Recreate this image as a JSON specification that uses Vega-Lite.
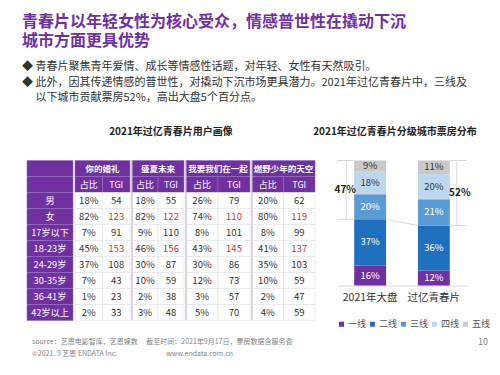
{
  "$schema": "https://vega.github.io/schema/vega-lite/v6.json",
  "padding": {"left": 22, "top": 13.5, "right": 0, "bottom": 0},
  "background": "white",
  "config": {"font": "Noto Sans CJK SC", "view": {"stroke": null}},
  "datasets": {
    "cells": [
      {"row": "男", "a1": "18%", "a2": "54", "b1": "18%", "b2": "55", "c1": "26%", "c2": "79", "d1": "20%", "d2": "62"},
      {"row": "女", "a1": "82%", "a2": "123", "b1": "82%", "b2": "122", "c1": "74%", "c2": "110", "d1": "80%", "d2": "119"},
      {"row": "17岁以下", "a1": "7%", "a2": "91", "b1": "9%", "b2": "110", "c1": "8%", "c2": "101", "d1": "8%", "d2": "99"},
      {"row": "18-23岁", "a1": "45%", "a2": "153", "b1": "46%", "b2": "156", "c1": "43%", "c2": "145", "d1": "41%", "d2": "137"},
      {"row": "24-29岁", "a1": "37%", "a2": "108", "b1": "30%", "b2": "87", "c1": "30%", "c2": "86", "d1": "35%", "d2": "103"},
      {"row": "30-35岁", "a1": "7%", "a2": "43", "b1": "10%", "b2": "59", "c1": "12%", "c2": "73", "d1": "10%", "d2": "59"},
      {"row": "36-41岁", "a1": "1%", "a2": "23", "b1": "2%", "b2": "38", "c1": "3%", "c2": "57", "d1": "2%", "d2": "47"},
      {"row": "42岁以上", "a1": "2%", "a2": "33", "b1": "3%", "b2": "48", "c1": "5%", "c2": "70", "d1": "4%", "d2": "59"}
    ]
  },
  "title": {
    "text": ["青春片以年轻女性为核心受众，情感普世性在撬动下沉", "城市方面更具优势"],
    "subtitle": ["◆ 青春片聚焦青年爱情、成长等情感性话题，对年轻、女性有天然吸引。", "◆ 此外，因其传递情感的普世性，对撬动下沉市场更具潜力。2021年过亿青春片中，三线及", "\u200b\u3000 以下城市贡献票房52%，高出大盘5个百分点。"],
    "anchor": "start", "frame": "group", "dx": -5,
    "fontSize": 16, "fontWeight": "bold", "color": "#7030a0", "lineHeight": 19,
    "subtitleFontSize": 11, "subtitleColor": "#333333", "subtitleLineHeight": 15.5, "subtitlePadding": 12,
    "offset": 24
  },
  "spacing": 8,
  "resolve": {"legend": {"color": "independent"}},
  "vconcat": [
    {
      "spacing": -3,
      "resolve": {"legend": {"color": "independent"}},
      "hconcat": [
        {
          "title": {"text": "2021年过亿青春片用户画像", "fontSize": 10, "fontWeight": "bold", "color": "#222222", "anchor": "middle", "offset": 23},
          "spacing": 0,
          "hconcat": [
            {
              "width": 46, "height": 160,
              "data": {"values": [
                {"row": "h1", "t": ""}, {"row": "h2", "t": ""},
                {"row": "男", "t": "男"}, {"row": "女", "t": "女"},
                {"row": "17岁以下", "t": "17岁以下"}, {"row": "18-23岁", "t": "18-23岁"},
                {"row": "24-29岁", "t": "24-29岁"}, {"row": "30-35岁", "t": "30-35岁"},
                {"row": "36-41岁", "t": "36-41岁"}, {"row": "42岁以上", "t": "42岁以上"}
              ]},
              "encoding": {
                "y": {"field": "row", "type": "nominal", "axis": null,
                  "scale": {"type": "band", "paddingInner": 0, "paddingOuter": 0,
                    "domain": ["h1", "h2", "男", "女", "17岁以下", "18-23岁", "24-29岁", "30-35岁", "36-41岁", "42岁以上"]}}
              },
              "layer": [
                {"mark": {"type": "rect", "fill": "#7030a0", "stroke": "#9470c0", "strokeWidth": 0.6}},
                {"mark": {"type": "text", "color": "white", "fontSize": 9.2}, "encoding": {"text": {"field": "t"}}}
              ]
            },
            {
              "width": 55, "height": 160,
              "layer": [
                {"data": {"values": [{"film": "你的婚礼", "row": "h1"}]},
                  "encoding": {"y": {"field": "row", "type": "nominal", "axis": null, "scale": {"type": "band", "paddingInner": 0, "paddingOuter": 0, "domain": ["h1", "h2", "男", "女", "17岁以下", "18-23岁", "24-29岁", "30-35岁", "36-41岁", "42岁以上"]}}},
                  "layer": [
                    {"mark": {"type": "rect", "fill": "#7030a0", "stroke": "#9470c0", "strokeWidth": 0.6}},
                    {"mark": {"type": "text", "color": "white", "fontSize": 8.5, "fontWeight": "bold"}, "encoding": {"text": {"field": "film"}}}
                  ]},
                {"data": {"values": [{"key": "a1", "t": "占比", "row": "h2"}, {"key": "a2", "t": "TGI", "row": "h2"}]},
                  "encoding": {"x": {"field": "key", "type": "nominal", "axis": null, "scale": {"type": "band", "paddingInner": 0, "paddingOuter": 0, "domain": ["a1", "a2"]}}, "y": {"field": "row", "type": "nominal"}},
                  "layer": [
                    {"mark": {"type": "rect", "fill": "#7030a0", "stroke": "#9470c0", "strokeWidth": 0.6}},
                    {"mark": {"type": "text", "color": "white", "fontSize": 9}, "encoding": {"text": {"field": "t"}}}
                  ]},
                {"data": {"name": "cells"},
                  "transform": [{"fold": ["a1", "a2"], "as": ["key", "val"]}],
                  "encoding": {"x": {"field": "key", "type": "nominal"}, "y": {"field": "row", "type": "nominal"}},
                  "layer": [
                    {"mark": {"type": "rect", "fill": "white", "stroke": "#e2e2e2", "strokeWidth": 0.6}},
                    {"mark": {"type": "text", "fontSize": 9.5},
                      "encoding": {"text": {"field": "val"},
                        "color": {"condition": {"test": "(datum.row === '女' || datum.row === '18-23岁') && datum.key === 'a2'", "value": "#c8363a"}, "value": "#333333"}}}
                  ]}
              ]
            },
            {
              "width": 52, "height": 160,
              "layer": [
                {"data": {"values": [{"film": "盛夏未来", "row": "h1"}]},
                  "encoding": {"y": {"field": "row", "type": "nominal", "axis": null, "scale": {"type": "band", "paddingInner": 0, "paddingOuter": 0, "domain": ["h1", "h2", "男", "女", "17岁以下", "18-23岁", "24-29岁", "30-35岁", "36-41岁", "42岁以上"]}}},
                  "layer": [
                    {"mark": {"type": "rect", "fill": "#7030a0", "stroke": "#9470c0", "strokeWidth": 0.6}},
                    {"mark": {"type": "text", "color": "white", "fontSize": 8.5, "fontWeight": "bold"}, "encoding": {"text": {"field": "film"}}}
                  ]},
                {"data": {"values": [{"key": "b1", "t": "占比", "row": "h2"}, {"key": "b2", "t": "TGI", "row": "h2"}]},
                  "encoding": {"x": {"field": "key", "type": "nominal", "axis": null, "scale": {"type": "band", "paddingInner": 0, "paddingOuter": 0, "domain": ["b1", "b2"]}}, "y": {"field": "row", "type": "nominal"}},
                  "layer": [
                    {"mark": {"type": "rect", "fill": "#7030a0", "stroke": "#9470c0", "strokeWidth": 0.6}},
                    {"mark": {"type": "text", "color": "white", "fontSize": 9}, "encoding": {"text": {"field": "t"}}}
                  ]},
                {"data": {"name": "cells"},
                  "transform": [{"fold": ["b1", "b2"], "as": ["key", "val"]}],
                  "encoding": {"x": {"field": "key", "type": "nominal"}, "y": {"field": "row", "type": "nominal"}},
                  "layer": [
                    {"mark": {"type": "rect", "fill": "white", "stroke": "#e2e2e2", "strokeWidth": 0.6}},
                    {"mark": {"type": "text", "fontSize": 9.5},
                      "encoding": {"text": {"field": "val"},
                        "color": {"condition": {"test": "(datum.row === '女' || datum.row === '18-23岁') && datum.key === 'b2'", "value": "#c8363a"}, "value": "#333333"}}}
                  ]},
                {"data": {"values": [{"edge": "b1"}]},
                  "mark": {"type": "rule", "color": "#c2aede", "strokeWidth": 1},
                  "encoding": {"x": {"field": "edge", "type": "nominal", "bandPosition": 0}}}
              ]
            },
            {
              "width": 64, "height": 160,
              "layer": [
                {"data": {"values": [{"film": "我要我们在一起", "row": "h1"}]},
                  "encoding": {"y": {"field": "row", "type": "nominal", "axis": null, "scale": {"type": "band", "paddingInner": 0, "paddingOuter": 0, "domain": ["h1", "h2", "男", "女", "17岁以下", "18-23岁", "24-29岁", "30-35岁", "36-41岁", "42岁以上"]}}},
                  "layer": [
                    {"mark": {"type": "rect", "fill": "#7030a0", "stroke": "#9470c0", "strokeWidth": 0.6}},
                    {"mark": {"type": "text", "color": "white", "fontSize": 8.5, "fontWeight": "bold"}, "encoding": {"text": {"field": "film"}}}
                  ]},
                {"data": {"values": [{"key": "c1", "t": "占比", "row": "h2"}, {"key": "c2", "t": "TGI", "row": "h2"}]},
                  "encoding": {"x": {"field": "key", "type": "nominal", "axis": null, "scale": {"type": "band", "paddingInner": 0, "paddingOuter": 0, "domain": ["c1", "c2"]}}, "y": {"field": "row", "type": "nominal"}},
                  "layer": [
                    {"mark": {"type": "rect", "fill": "#7030a0", "stroke": "#9470c0", "strokeWidth": 0.6}},
                    {"mark": {"type": "text", "color": "white", "fontSize": 9}, "encoding": {"text": {"field": "t"}}}
                  ]},
                {"data": {"name": "cells"},
                  "transform": [{"fold": ["c1", "c2"], "as": ["key", "val"]}],
                  "encoding": {"x": {"field": "key", "type": "nominal"}, "y": {"field": "row", "type": "nominal"}},
                  "layer": [
                    {"mark": {"type": "rect", "fill": "white", "stroke": "#e2e2e2", "strokeWidth": 0.6}},
                    {"mark": {"type": "text", "fontSize": 9.5},
                      "encoding": {"text": {"field": "val"},
                        "color": {"condition": {"test": "(datum.row === '女' || datum.row === '18-23岁') && datum.key === 'c2'", "value": "#c8363a"}, "value": "#333333"}}}
                  ]},
                {"data": {"values": [{"edge": "c1"}]},
                  "mark": {"type": "rule", "color": "#c2aede", "strokeWidth": 1},
                  "encoding": {"x": {"field": "edge", "type": "nominal", "bandPosition": 0}}}
              ]
            },
            {
              "width": 63, "height": 160,
              "layer": [
                {"data": {"values": [{"film": "燃野少年的天空", "row": "h1"}]},
                  "encoding": {"y": {"field": "row", "type": "nominal", "axis": null, "scale": {"type": "band", "paddingInner": 0, "paddingOuter": 0, "domain": ["h1", "h2", "男", "女", "17岁以下", "18-23岁", "24-29岁", "30-35岁", "36-41岁", "42岁以上"]}}},
                  "layer": [
                    {"mark": {"type": "rect", "fill": "#7030a0", "stroke": "#9470c0", "strokeWidth": 0.6}},
                    {"mark": {"type": "text", "color": "white", "fontSize": 8.5, "fontWeight": "bold"}, "encoding": {"text": {"field": "film"}}}
                  ]},
                {"data": {"values": [{"key": "d1", "t": "占比", "row": "h2"}, {"key": "d2", "t": "TGI", "row": "h2"}]},
                  "encoding": {"x": {"field": "key", "type": "nominal", "axis": null, "scale": {"type": "band", "paddingInner": 0, "paddingOuter": 0, "domain": ["d1", "d2"]}}, "y": {"field": "row", "type": "nominal"}},
                  "layer": [
                    {"mark": {"type": "rect", "fill": "#7030a0", "stroke": "#9470c0", "strokeWidth": 0.6}},
                    {"mark": {"type": "text", "color": "white", "fontSize": 9}, "encoding": {"text": {"field": "t"}}}
                  ]},
                {"data": {"name": "cells"},
                  "transform": [{"fold": ["d1", "d2"], "as": ["key", "val"]}],
                  "encoding": {"x": {"field": "key", "type": "nominal"}, "y": {"field": "row", "type": "nominal"}},
                  "layer": [
                    {"mark": {"type": "rect", "fill": "white", "stroke": "#e2e2e2", "strokeWidth": 0.6}},
                    {"mark": {"type": "text", "fontSize": 9.5},
                      "encoding": {"text": {"field": "val"},
                        "color": {"condition": {"test": "(datum.row === '女' || datum.row === '18-23岁') && datum.key === 'd2'", "value": "#c8363a"}, "value": "#333333"}}}
                  ]},
                {"data": {"values": [{"edge": "d1"}]},
                  "mark": {"type": "rule", "color": "#c2aede", "strokeWidth": 1},
                  "encoding": {"x": {"field": "edge", "type": "nominal", "bandPosition": 0}}}
              ]
            }
          ]
        },
        {
          "width": 130, "height": 125,
          "title": {"text": "2021年过亿青春片分级城市票房分布", "fontSize": 10, "fontWeight": "bold", "color": "#222222", "anchor": "middle", "frame": "group", "offset": 23, "dx": -7},
          "layer": [
            {
              "data": {"values": [
                {"cat": "2021年大盘", "tier": "一线", "rank": 1, "v": 0.16},
                {"cat": "2021年大盘", "tier": "二线", "rank": 2, "v": 0.37},
                {"cat": "2021年大盘", "tier": "三线", "rank": 3, "v": 0.20},
                {"cat": "2021年大盘", "tier": "四线", "rank": 4, "v": 0.18},
                {"cat": "2021年大盘", "tier": "五线", "rank": 5, "v": 0.09},
                {"cat": "过亿青春片", "tier": "一线", "rank": 1, "v": 0.12},
                {"cat": "过亿青春片", "tier": "二线", "rank": 2, "v": 0.36},
                {"cat": "过亿青春片", "tier": "三线", "rank": 3, "v": 0.21},
                {"cat": "过亿青春片", "tier": "四线", "rank": 4, "v": 0.20},
                {"cat": "过亿青春片", "tier": "五线", "rank": 5, "v": 0.11}
              ]},
              "layer": [
                {
                  "mark": {"type": "bar"},
                  "encoding": {
                    "x": {"field": "cat", "type": "nominal",
                      "scale": {"domain": ["2021年大盘", "过亿青春片"], "paddingInner": 0.5, "paddingOuter": 0.27},
                      "axis": {"title": null, "labelAngle": 0, "labelFontSize": 10.5, "labelColor": "#333333", "ticks": false, "domainColor": "#d9d9d9", "labelPadding": 7}},
                    "y": {"field": "v", "type": "quantitative", "stack": "zero", "scale": {"domain": [0, 1]}, "axis": null},
                    "color": {"field": "tier", "type": "nominal",
                      "scale": {"domain": ["一线", "二线", "三线", "四线", "五线"], "range": ["#7030a0", "#1f6fbf", "#5b9bd5", "#bdd7ee", "#c9c9c9"]},
                      "legend": {"orient": "bottom", "direction": "horizontal", "title": null, "symbolType": "square", "symbolSize": 25, "symbolStrokeWidth": 0, "labelFontSize": 9, "labelColor": "#555555", "columnPadding": 1, "labelOffset": 2, "offset": 16, "padding": 0, "symbolOffset": 0}},
                    "order": {"field": "rank", "type": "quantitative"}
                  }
                },
                {
                  "mark": {"type": "text", "fontSize": 9.5},
                  "encoding": {
                    "x": {"field": "cat", "type": "nominal"},
                    "y": {"field": "v", "type": "quantitative", "stack": "zero", "bandPosition": 0.5},
                    "detail": {"field": "tier"},
                    "order": {"field": "rank", "type": "quantitative"},
                    "text": {"field": "v", "type": "quantitative", "format": ".0%"},
                    "color": {"condition": {"test": "datum.rank <= 3", "value": "white"}, "value": "#333333"}
                  }
                }
              ]
            },
            {
              "data": {"values": [{"c1": "2021年大盘", "c2": "过亿青春片", "lo1": 0.53, "lo2": 0.48}]},
              "mark": {"type": "rule", "color": "#d9d9d9", "strokeWidth": 1},
              "encoding": {
                "x": {"field": "c1", "type": "nominal", "bandPosition": 1},
                "x2": {"field": "c2", "bandPosition": 0},
                "y": {"field": "lo1", "type": "quantitative"},
                "y2": {"field": "lo2"}
              }
            },
            {
              "data": {"values": [{"cat": "2021年大盘", "lo": 0.53, "hi": 1, "label": "47%"}]},
              "layer": [
                {"mark": {"type": "rule", "color": "#d9d9d9", "xOffset": -8},
                  "encoding": {"x": {"field": "cat", "type": "nominal", "bandPosition": 0}, "y": {"field": "lo", "type": "quantitative"}, "y2": {"field": "hi"}}},
                {"mark": {"type": "rule", "color": "#d9d9d9", "xOffset": -17},
                  "encoding": {"x": {"field": "cat", "type": "nominal", "bandPosition": 0}, "x2": {"field": "cat", "bandPosition": 0}, "y": {"field": "hi", "type": "quantitative"}}},
                {"mark": {"type": "rule", "color": "#d9d9d9", "xOffset": -17},
                  "encoding": {"x": {"field": "cat", "type": "nominal", "bandPosition": 0}, "x2": {"field": "cat", "bandPosition": 0}, "y": {"field": "lo", "type": "quantitative"}}},
                {"transform": [{"fold": ["lo", "hi"], "as": ["k", "pos"]}],
                  "mark": {"type": "text", "fontSize": 10, "fontWeight": "bold", "color": "#222222", "xOffset": -9},
                  "encoding": {"x": {"field": "cat", "type": "nominal", "bandPosition": 0}, "y": {"aggregate": "mean", "field": "pos", "type": "quantitative"}, "text": {"field": "label"}}}
              ]
            },
            {
              "data": {"values": [{"cat": "过亿青春片", "lo": 0.48, "hi": 1, "label": "52%"}]},
              "layer": [
                {"mark": {"type": "rule", "color": "#d9d9d9", "xOffset": 7},
                  "encoding": {"x": {"field": "cat", "type": "nominal", "bandPosition": 1}, "y": {"field": "lo", "type": "quantitative"}, "y2": {"field": "hi"}}},
                {"mark": {"type": "rule", "color": "#d9d9d9", "x2Offset": 17},
                  "encoding": {"x": {"field": "cat", "type": "nominal", "bandPosition": 1}, "x2": {"field": "cat", "bandPosition": 1}, "y": {"field": "hi", "type": "quantitative"}}},
                {"mark": {"type": "rule", "color": "#d9d9d9", "x2Offset": 17},
                  "encoding": {"x": {"field": "cat", "type": "nominal", "bandPosition": 1}, "x2": {"field": "cat", "bandPosition": 1}, "y": {"field": "lo", "type": "quantitative"}}},
                {"transform": [{"fold": ["lo", "hi"], "as": ["k", "pos"]}],
                  "mark": {"type": "text", "fontSize": 10, "fontWeight": "bold", "color": "#222222", "xOffset": 10},
                  "encoding": {"x": {"field": "cat", "type": "nominal", "bandPosition": 1}, "y": {"aggregate": "mean", "field": "pos", "type": "quantitative"}, "text": {"field": "label"}}}
              ]
            }
          ]
        }
      ]
    },
    {
      "width": 456, "height": 12.5,
      "layer": [
        {
          "data": {"values": [
            {"line": "1", "t": "source：艺恩电影智库，艺恩娱数\u3000 截至时间：2021年9月17日，票房数据含服务费"},
            {"line": "2", "t": "©2021. 9 艺恩 ENDATA Inc.\u3000\u3000\u3000\u3000\u3000\u3000\u3000www.endata.com.cn"}
          ]},
          "mark": {"type": "text", "align": "left", "fontSize": 7, "color": "#7f7f7f", "dx": 5},
          "encoding": {
            "x": {"datum": 0, "type": "quantitative", "scale": {"domain": [0, 1]}, "axis": null},
            "y": {"field": "line", "type": "nominal", "scale": {"type": "point", "domain": ["1", "2"], "padding": 0}, "axis": null},
            "text": {"field": "t"}
          }
        },
        {
          "data": {"values": [{"line": "1", "t": "10"}]},
          "mark": {"type": "text", "align": "center", "fontSize": 9, "color": "#7f7f7f"},
          "encoding": {
            "x": {"datum": 1, "type": "quantitative"},
            "y": {"field": "line", "type": "nominal"},
            "text": {"field": "t"}
          }
        }
      ]
    }
  ]
}
